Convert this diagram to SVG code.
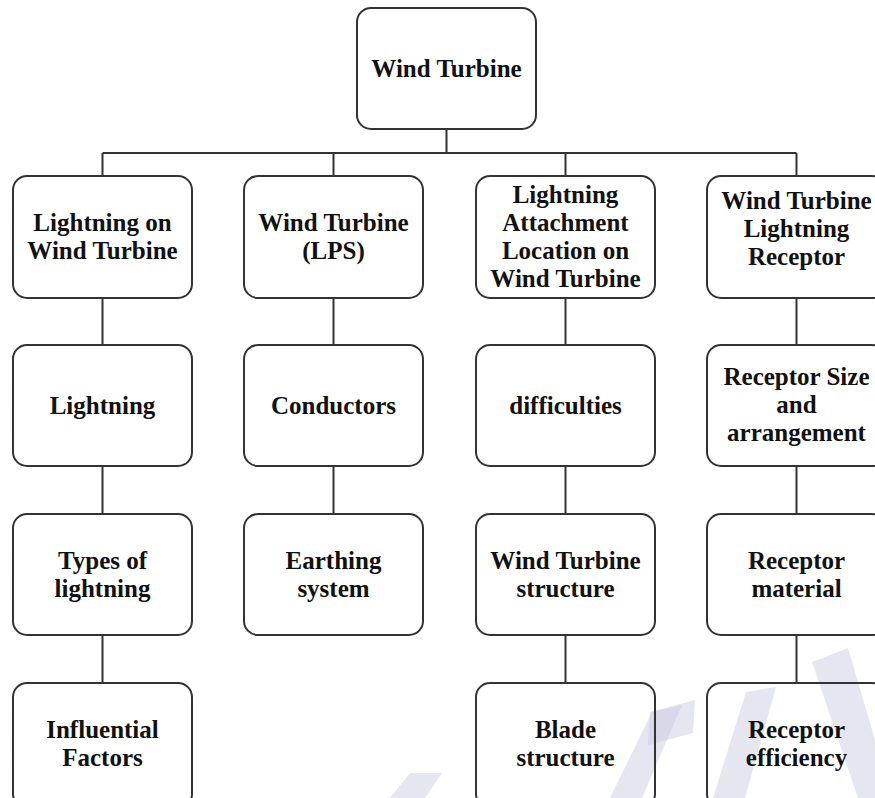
<svg xmlns="http://www.w3.org/2000/svg" width="875" height="798" viewBox="0 0 875 798">
<style>
.box{fill:none;stroke:#333;stroke-width:2}
.wm{fill:#c8c8e0;opacity:0.45}
.conn{stroke:#333;stroke-width:2;fill:none}
text{font-family:"Liberation Serif","Times New Roman",serif;font-weight:bold;font-size:25px;fill:#111;text-anchor:middle}
</style>
<rect width="875" height="798" fill="#fff"/>
<g id="watermark">
<polygon class="wm" points="390,798 425,798 442,773 410,773"/>
<polygon class="wm" points="610,798 642,798 682,705 652,712"/>
<polygon class="wm" points="650,712 695,700 693,733 648,745"/>
<polygon class="wm" points="713,798 745,798 776,687 746,692"/>
<polygon class="wm" points="812,662 848,648 875,740 875,798 858,798"/>
</g>
<g id="connectors">
<path class="conn" d="M446.5,129 V153 M102.5,153 H796.5 M102.5,153 V176 M333.5,153 V176 M565.5,153 V176 M796.5,153 V176"/>
<path class="conn" d="M102.5,298 V345 M102.5,466 V514 M102.5,635 V683"/>
<path class="conn" d="M333.5,298 V345 M333.5,466 V514"/>
<path class="conn" d="M565.5,298 V345 M565.5,466 V514 M565.5,635 V683"/>
<path class="conn" d="M796.5,298 V345 M796.5,466 V514 M796.5,635 V683"/>
</g>
<g id="root"><rect class="box" x="357" y="8" width="179" height="121" rx="14"/><text x="446.5" y="77">Wind Turbine</text></g>
<g id="n1"><rect class="box" x="13" y="176" width="179" height="122" rx="14"/><text x="102.5" y="231">Lightning on</text><text x="102.5" y="259">Wind Turbine</text></g>
<g id="n2"><rect class="box" x="244" y="176" width="179" height="122" rx="14"/><text x="333.5" y="231">Wind Turbine</text><text x="333.5" y="259">(LPS)</text></g>
<g id="n3"><rect class="box" x="476" y="176" width="179" height="122" rx="14"/><text x="565.5" y="203">Lightning</text><text x="565.5" y="231">Attachment</text><text x="565.5" y="259">Location on</text><text x="565.5" y="287">Wind Turbine</text></g>
<g id="n4"><rect class="box" x="707" y="176" width="179" height="122" rx="14"/><text x="796.5" y="209">Wind Turbine</text><text x="796.5" y="237">Lightning</text><text x="796.5" y="265">Receptor</text></g>
<g id="n5"><rect class="box" x="13" y="345" width="179" height="121" rx="14"/><text x="102.5" y="414">Lightning</text></g>
<g id="n6"><rect class="box" x="244" y="345" width="179" height="121" rx="14"/><text x="333.5" y="414">Conductors</text></g>
<g id="n7"><rect class="box" x="476" y="345" width="179" height="121" rx="14"/><text x="565.5" y="414">difficulties</text></g>
<g id="n8"><rect class="box" x="707" y="345" width="179" height="121" rx="14"/><text x="796.5" y="385">Receptor Size</text><text x="796.5" y="413">and</text><text x="796.5" y="441">arrangement</text></g>
<g id="n9"><rect class="box" x="13" y="514" width="179" height="121" rx="14"/><text x="102.5" y="569">Types of</text><text x="102.5" y="597">lightning</text></g>
<g id="n10"><rect class="box" x="244" y="514" width="179" height="121" rx="14"/><text x="333.5" y="569">Earthing</text><text x="333.5" y="597">system</text></g>
<g id="n11"><rect class="box" x="476" y="514" width="179" height="121" rx="14"/><text x="565.5" y="569">Wind Turbine</text><text x="565.5" y="597">structure</text></g>
<g id="n12"><rect class="box" x="707" y="514" width="179" height="121" rx="14"/><text x="796.5" y="569">Receptor</text><text x="796.5" y="597">material</text></g>
<g id="n13"><rect class="box" x="13" y="683" width="179" height="125" rx="14"/><text x="102.5" y="738">Influential</text><text x="102.5" y="766">Factors</text></g>
<g id="n14"><rect class="box" x="476" y="683" width="179" height="125" rx="14"/><text x="565.5" y="738">Blade</text><text x="565.5" y="766">structure</text></g>
<g id="n15"><rect class="box" x="707" y="683" width="179" height="125" rx="14"/><text x="796.5" y="738">Receptor</text><text x="796.5" y="766">efficiency</text></g>
</svg>
